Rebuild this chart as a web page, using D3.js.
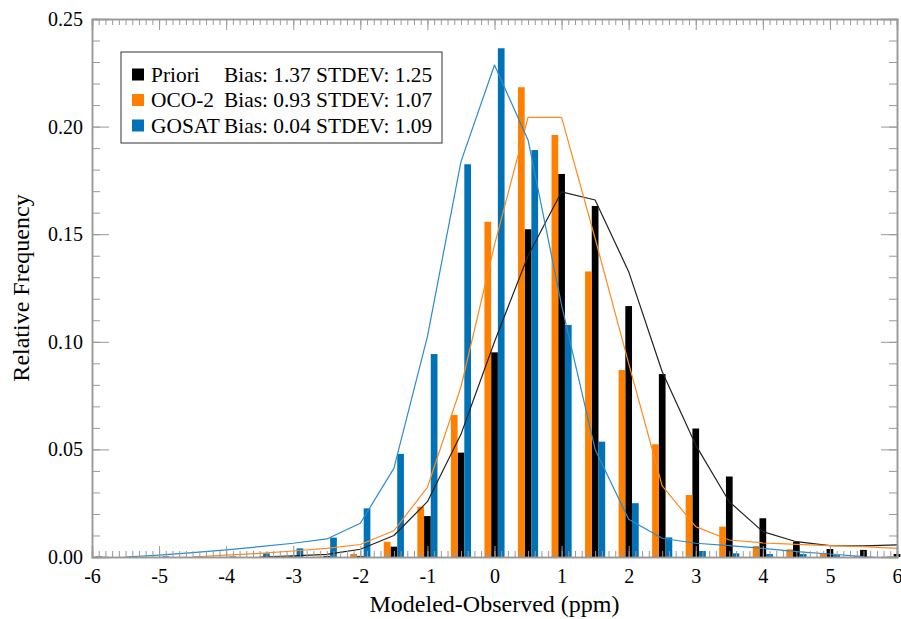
<!DOCTYPE html>
<html>
<head>
<meta charset="utf-8">
<script src="https://cdn.jsdelivr.net/npm/d3@7"></script>
<style>
  body { margin: 0; background: #fff; }
  text { font-family: "Liberation Serif", "Times New Roman", serif; }
</style>
</head>
<body>
<svg id="chart"></svg>
<script>
// bin centres (ppm)
var bins = [-6, -5.5, -5, -4.5, -4, -3.5, -3, -2.5, -2, -1.5, -1, -0.5, 0, 0.5, 1, 1.5, 2, 2.5, 3, 3.5, 4, 4.5, 5, 5.5, 6];

// histogram bars (relative frequency)
var prioriBars = [0, 0, 0, 0, 0, 0, 0.0003, 0.0005, 0.0005, 0.0048, 0.019, 0.0485, 0.0951, 0.1523, 0.178, 0.1631, 0.1166, 0.085, 0.0597, 0.0374, 0.018, 0.0071, 0.0037, 0.0033, 0.0014];
var oco2Bars = [0, 0, 0, 0, 0, 0, 0.0002, 0.0002, 0.0014, 0.0071, 0.0234, 0.066, 0.1558, 0.2183, 0.1961, 0.1327, 0.0869, 0.0524, 0.0288, 0.0141, 0.0051, 0.0036, 0.0017, 0.0005, 0.0003];
var gosatBars = [0.0003, 0.0003, 0.0003, 0.0003, 0.0003, 0.0017, 0.004, 0.009, 0.0226, 0.0479, 0.0943, 0.1825, 0.2364, 0.1891, 0.1078, 0.0536, 0.025, 0.0091, 0.0028, 0.0017, 0.0014, 0.0014, 0.0009, 0.0002, 0];

// fitted curves (null = not drawn)
var prioriLine = [null, null, null, null, null, 0, 0.0005, 0.0012, 0.0036, 0.0100, 0.0257, 0.057, 0.100, 0.140, 0.1697, 0.1659, 0.1326, 0.0861, 0.052, 0.0257, 0.0118, 0.0071, 0.0053, 0.0052, 0.0056];
var oco2Line = [null, null, null, 0, 0.0009, 0.0017, 0.0028, 0.004, 0.0058, 0.0122, 0.0324, 0.079, 0.145, 0.2043, 0.2043, 0.148, 0.090, 0.033, 0.0141, 0.0079, 0.0066, 0.0059, 0.0053, 0.0048, 0.004];
var gosatLine = [null, 0, 0.0009, 0.002, 0.0033, 0.0048, 0.0064, 0.0084, 0.0157, 0.0412, 0.1024, 0.1837, 0.2286, 0.1938, 0.117, 0.050, 0.0175, 0.0087, 0.0064, 0.0053, 0.004, 0.0025, 0.0014, 0.0002, null];

var seriesNames = ["Priori", "OCO-2", "GOSAT"];
var seriesStats = ["Bias: 1.37 STDEV: 1.25", "Bias: 0.93 STDEV: 1.07", "Bias: 0.04 STDEV: 1.09"];
var xTicks = [-6, -5, -4, -3, -2, -1, 0, 1, 2, 3, 4, 5, 6];
var yTicks = [0, 0.05, 0.10, 0.15, 0.20, 0.25];

function drawChart() {
    var svg = d3.select('#chart');
    var width = 901;
    var height = 619;
    var left = 92, right = 897, top = 19, bottom = 557;
    var axisColor = "#999";

    svg.attr("width", width).attr("height", height);

    var xScale = d3.scaleLinear().domain([-6, 6]).range([left, right]);
    var yScale = d3.scaleLinear().domain([0, 0.25]).range([bottom, top]);

    var colors = ["#000000", "#ff7f00", "#0072b5"];
    var lineColors = ["#222222", "#ff8a1f", "#2a8ccc"];
    var barSets = [prioriBars, oco2Bars, gosatBars];
    var lineSets = [prioriLine, oco2Line, gosatLine];
    // orange left, black middle, blue right
    var offsets = [0, -0.1, 0.1];
    var barW = 0.1;

    // bars
    barSets.forEach(function(vals, s) {
        svg.append("g").selectAll("rect")
            .data(vals)
            .enter().append("rect")
            .attr("x", function(d, i) { return xScale(bins[i] + offsets[s] - barW / 2); })
            .attr("width", xScale(barW) - xScale(0))
            .attr("y", function(d) { return yScale(d); })
            .attr("height", function(d) { return yScale(0) - yScale(d); })
            .attr("fill", colors[s]);
    });

    // curves
    lineSets.forEach(function(vals, s) {
        var line = d3.line()
            .defined(function(d) { return d !== null; })
            .x(function(d, i) { return xScale(bins[i]); })
            .y(function(d) { return yScale(d); });
        svg.append("path")
            .attr("d", line(vals))
            .attr("fill", "none")
            .attr("stroke", lineColors[s])
            .attr("stroke-width", 1.2)
            .attr("stroke-linejoin", "round");
    });

    // plain hyphen for negatives, like the original
    var intFmt = function(d) { return String(d); };

    // axes: bottom / top
    var xMinor = d3.range(-60, 61).map(function(d) { return d / 10; });
    var xBottom = d3.axisBottom(xScale).tickValues(xMinor).tickSize(-6).tickFormat("");
    var xBottomMajor = d3.axisBottom(xScale).tickValues(xTicks).tickSize(-11).tickFormat(intFmt).tickPadding(12);
    var xTop = d3.axisTop(xScale).tickValues(xMinor).tickSize(-6).tickFormat("");
    var xTopMajor = d3.axisTop(xScale).tickValues(xTicks).tickSize(-11).tickFormat("");

    var yMinor = d3.range(0, 26).map(function(d) { return d / 100; });
    var yLeft = d3.axisLeft(yScale).tickValues(yMinor).tickSize(-8).tickFormat("");
    var yLeftMajor = d3.axisLeft(yScale).tickValues(yTicks).tickSize(-17).tickFormat(d3.format(".2f"));
    var yRight = d3.axisRight(yScale).tickValues(yMinor).tickSize(-8).tickFormat("");
    var yRightMajor = d3.axisRight(yScale).tickValues(yTicks).tickSize(-16).tickFormat("");

    var gb = svg.append("g").attr("transform", "translate(0," + bottom + ")");
    gb.call(xBottom); gb.append("g").call(xBottomMajor);
    var gt = svg.append("g").attr("transform", "translate(0," + top + ")");
    gt.call(xTop); gt.append("g").call(xTopMajor);
    var gl = svg.append("g").attr("transform", "translate(" + left + ",0)");
    gl.call(yLeft); gl.append("g").call(yLeftMajor);
    var gr = svg.append("g").attr("transform", "translate(" + right + ",0)");
    gr.call(yRight); gr.append("g").call(yRightMajor);

    svg.selectAll(".domain").attr("stroke", axisColor).attr("stroke-width", 1.5);
    svg.selectAll(".tick line").attr("stroke", axisColor);
    svg.selectAll(".tick text")
        .attr("font-size", 20)
        .attr("fill", "#000");
    gl.selectAll(".tick text").attr("x", -9);

    // axis titles
    svg.append("text")
        .attr("x", (left + right) / 2)
        .attr("y", 612)
        .attr("text-anchor", "middle")
        .attr("font-size", 24)
        .text("Modeled-Observed (ppm)");
    svg.append("text")
        .attr("transform", "translate(29," + ((top + bottom) / 2) + ") rotate(-90)")
        .attr("text-anchor", "middle")
        .attr("font-size", 24)
        .text("Relative Frequency");

    // legend
    var lg = svg.append("g");
    lg.append("rect")
        .attr("x", 121).attr("y", 52)
        .attr("width", 321).attr("height", 91)
        .attr("fill", "#fff")
        .attr("stroke", "#333")
        .attr("stroke-width", 1);
    seriesNames.forEach(function(name, i) {
        var cy = 74.5 + i * 25.5;
        lg.append("rect")
            .attr("x", 132).attr("y", cy - 6)
            .attr("width", 12).attr("height", 12)
            .attr("fill", colors[i]);
        lg.append("text")
            .attr("x", 151).attr("y", cy + 7)
            .attr("font-size", 21.4)
            .text(name);
        lg.append("text")
            .attr("x", 224).attr("y", cy + 7)
            .attr("font-size", 21.4)
            .text(seriesStats[i]);
    });
}

drawChart();
</script>
</body>
</html>
